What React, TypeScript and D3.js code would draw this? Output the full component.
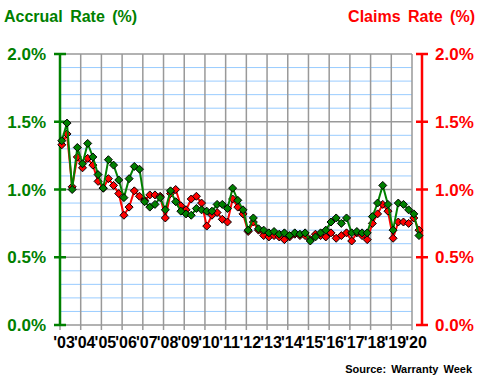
import React from "react";
import * as d3 from "d3";

const yearTicks = [2003, 2004, 2005, 2006, 2007, 2008, 2009, 2010, 2011, 2012, 2013, 2014, 2015, 2016, 2017, 2018, 2019, 2020];
const yearLabels = ["'03", "'04", "'05", "'06", "'07", "'08", "'09", "'10", "'11", "'12", "'13", "'14", "'15", "'16", "'17", "'18", "'19", "'20"];
const yTicks = [0, 0.5, 1.0, 1.5, 2.0];
const yTickLabels = ["0.0%", "0.5%", "1.0%", "1.5%", "2.0%"];
const minorTicks = [0.1, 0.2, 0.3, 0.4, 0.6, 0.7, 0.8, 0.9, 1.1, 1.2, 1.3, 1.4, 1.6, 1.7, 1.8, 1.9];

// quarterly, 2003 Q1 .. 2020 Q2
const accrualRate = [
  1.36, 1.49, 1.00, 1.31, 1.19, 1.34, 1.24, 1.11,
  1.01, 1.22, 1.18, 1.07, 0.94, 1.08, 1.17, 1.15,
  0.91, 0.87, 0.89, 0.94, 0.85, 0.99, 0.91, 0.84,
  0.82, 0.81, 0.86, 0.85, 0.84, 0.84, 0.89, 0.89,
  0.86, 1.01, 0.92, 0.85, 0.70, 0.79, 0.71, 0.70,
  0.68, 0.69, 0.67, 0.68, 0.66, 0.68, 0.67, 0.68,
  0.62, 0.65, 0.68, 0.70, 0.76, 0.79, 0.75, 0.79,
  0.68, 0.69, 0.68, 0.68, 0.80, 0.90, 1.03, 0.89,
  0.70, 0.90, 0.89, 0.85, 0.82, 0.66,
];
const claimsRate = [
  1.33, 1.41, 1.02, 1.24, 1.16, 1.23, 1.18, 1.06,
  1.01, 1.08, 1.03, 0.97, 0.81, 0.87, 0.99, 0.95,
  0.92, 0.96, 0.96, 0.95, 0.79, 0.97, 1.00, 0.88,
  0.85, 0.93, 0.95, 0.90, 0.73, 0.81, 0.83, 0.78,
  0.76, 0.93, 0.87, 0.82, 0.69, 0.76, 0.70, 0.66,
  0.65, 0.66, 0.65, 0.63, 0.65, 0.67, 0.66, 0.66,
  0.63, 0.67, 0.66, 0.65, 0.68, 0.64, 0.66, 0.68,
  0.62, 0.68, 0.66, 0.63, 0.75, 0.82, 0.89, 0.84,
  0.64, 0.76, 0.76, 0.75, 0.79, 0.70,
];

const GREEN = "#008000";
const RED = "#ff0000";
const GRID = "#999999";
const MINOR = "#99ccff";
const FONT = "'Liberation Sans', Arial, sans-serif";

export default function App() {
  const x = d3.scaleLinear().domain([2003, 2020]).range([60, 412]);
  const y = d3.scaleLinear().domain([0, 2]).range([325, 54]);
  const qx = (i: number) => x(2003 + (i + 0.35) / 4);
  const line = d3.line<number>().x((_, i) => qx(i)).y((d) => y(d));
  const diamond = "M0,-4L4,0L0,4L-4,0Z";

  const series = [
    { data: claimsRate, color: RED },
    { data: accrualRate, color: GREEN },
  ];

  return (
    <svg width={480} height={380} style={{ position: "absolute", left: 0, top: 0, background: "#fff" }} fontFamily={FONT}>
      {/* minor grid */}
      {minorTicks.map((t) => (
        <line key={"m" + t} x1={x(2003)} x2={x(2020)} y1={y(t)} y2={y(t)} stroke={MINOR} strokeWidth={1} />
      ))}
      {/* vertical grid */}
      {yearTicks.map((t) => (
        <line key={"v" + t} x1={x(t)} x2={x(t)} y1={y(2)} y2={y(0) + 5} stroke={GRID} strokeWidth={1.5} />
      ))}
      {/* major horizontal grid */}
      {yTicks.map((t) => (
        <line key={"h" + t} x1={x(2003)} x2={x(2020)} y1={y(t)} y2={y(t)} stroke={GRID} strokeWidth={1.5} />
      ))}

      {/* left axis */}
      <line x1={60} x2={60} y1={y(2) - 1} y2={y(0) + 1} stroke={GREEN} strokeWidth={2.5} />
      {yTicks.map((t, i) => (
        <g key={"l" + t}>
          <line x1={54} x2={66} y1={y(t)} y2={y(t)} stroke={GREEN} strokeWidth={2.5} />
          <text x={46} y={y(t) + 6} textAnchor="end" fill={GREEN} fontWeight="bold" fontSize={17}>
            {yTickLabels[i]}
          </text>
        </g>
      ))}

      {/* right axis */}
      <line x1={422} x2={422} y1={y(2) - 1} y2={y(0) + 1} stroke={RED} strokeWidth={2.5} />
      {yTicks.map((t, i) => (
        <g key={"r" + t}>
          <line x1={416} x2={428} y1={y(t)} y2={y(t)} stroke={RED} strokeWidth={2.5} />
          <text x={435} y={y(t) + 6} textAnchor="start" fill={RED} fontWeight="bold" fontSize={17}>
            {yTickLabels[i]}
          </text>
        </g>
      ))}

      {/* series */}
      {series.map((s, k) => (
        <g key={"s" + k}>
          <path d={line(s.data) || ""} fill="none" stroke={s.color} strokeWidth={2} />
          {s.data.map((v, i) => (
            <path key={i} d={diamond} transform={`translate(${qx(i)},${y(v)})`} fill={s.color} stroke="#000" strokeWidth={1} />
          ))}
        </g>
      ))}

      {/* x labels */}
      {yearTicks.map((t, i) => (
        <text key={"x" + t} x={x(t) + 4} y={348} textAnchor="middle" fontWeight="bold" fontSize={16} fill="#000">
          {yearLabels[i]}
        </text>
      ))}

      {/* titles */}
      <text x={4} y={22} fill={GREEN} fontWeight="bold" fontSize={16} style={{ wordSpacing: "3px" }}>
        Accrual Rate (%)
      </text>
      <text x={475} y={22} textAnchor="end" fill={RED} fontWeight="bold" fontSize={16} style={{ wordSpacing: "3px" }}>
        Claims Rate (%)
      </text>
      <text x={472} y={373} textAnchor="end" fill="#000" fontWeight="bold" fontSize={11} style={{ wordSpacing: "2px" }}>
        Source: Warranty Week
      </text>
    </svg>
  );
}
